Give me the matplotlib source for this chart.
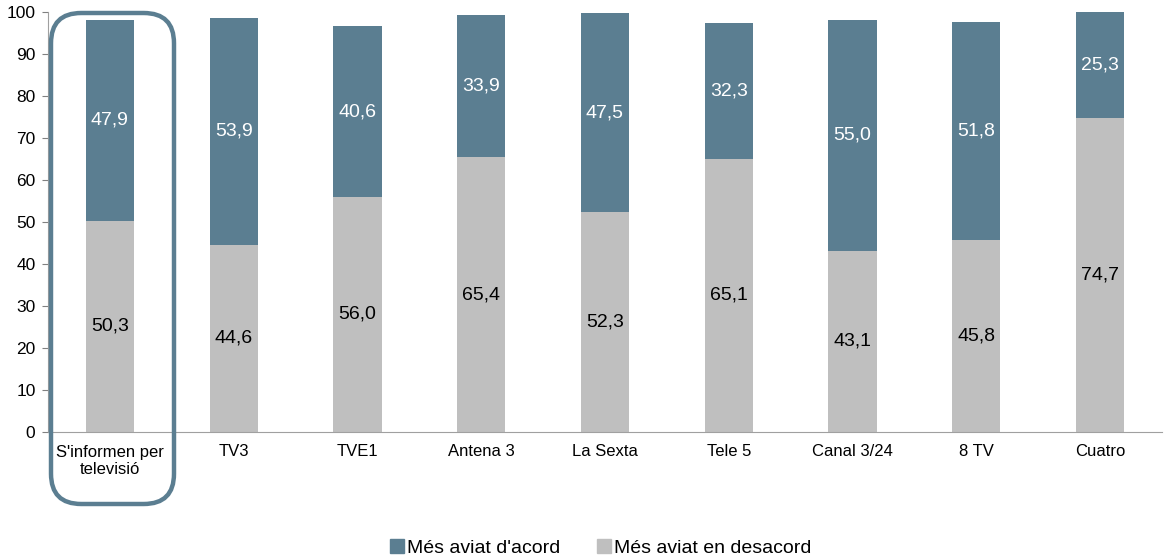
import matplotlib
matplotlib.use("Agg")
import matplotlib.pyplot as plt
import matplotlib.patches as mpatches
import numpy as np

plt.rcParams["font.family"] = ["Liberation Sans", "DejaVu Sans"]

categories = ["S'informen per\ntelevisió", "TV3", "TVE1", "Antena 3", "La Sexta",
              "Tele 5", "Canal 3/24", "8 TV", "Cuatro"]
desacord = [50.3, 44.6, 56.0, 65.4, 52.3, 65.1, 43.1, 45.8, 74.7]
acord = [47.9, 53.9, 40.6, 33.9, 47.5, 32.3, 55.0, 51.8, 25.3]
labels = ["Més aviat d'acord", "Més aviat en desacord"]

BLUE = "#5B7E91"
GRAY = "#BFBFBF"

fig = plt.figure(figsize=(11.64, 5.59), dpi=100)
ax = fig.add_axes([48 / 1164, 127 / 559, 1114 / 1164, 420 / 559])

x = np.arange(len(categories))
w = 0.39
ax.bar(x, desacord, w, color=GRAY, label=labels[1], zorder=2)
ax.bar(x, acord, w, bottom=desacord, color=BLUE, label=labels[0], zorder=2)

fmt = lambda v: f"{v:.1f}".replace(".", ",")
for i in range(len(x)):
    ax.text(x[i], desacord[i] / 2, fmt(desacord[i]), ha="center", va="center",
            fontsize=14, color="black", zorder=3)
    ax.text(x[i], desacord[i] + acord[i] / 2, fmt(acord[i]), ha="center",
            va="center", fontsize=14, color="white", zorder=3)

ax.set_xlim(-0.5, len(x) - 0.5)
ax.set_ylim(0, 100)
ax.set_yticks(range(0, 101, 10))
ax.set_xticks(x)
ax.set_xticklabels(categories, fontsize=12)
ax.tick_params(axis="y", labelsize=12.5, length=4, color="#808080", pad=5)
ax.tick_params(axis="x", length=0, pad=9)
for s in ["top", "right"]:
    ax.spines[s].set_visible(False)
for s in ["left", "bottom"]:
    ax.spines[s].set_color("#A0A0A0")

# rounded highlight box around first category
box = mpatches.FancyBboxPatch((51 / 1164, 55 / 559), 123 / 1164, 491 / 559,
                              boxstyle="round,pad=0,rounding_size=0.026",
                              transform=fig.transFigure, fill=False,
                              ec=BLUE, lw=3.2, mutation_aspect=1164 / 559)
fig.patches.append(box)

h = [mpatches.Patch(color=BLUE), mpatches.Patch(color=GRAY)]
fig.legend(h, labels, loc="center", bbox_to_anchor=(0.516, 0.02), ncol=2,
           frameon=False, fontsize=14, handlelength=0.7, handleheight=0.7,
           handletextpad=0.15, columnspacing=1.9)

fig.savefig("out.png", dpi=100)
